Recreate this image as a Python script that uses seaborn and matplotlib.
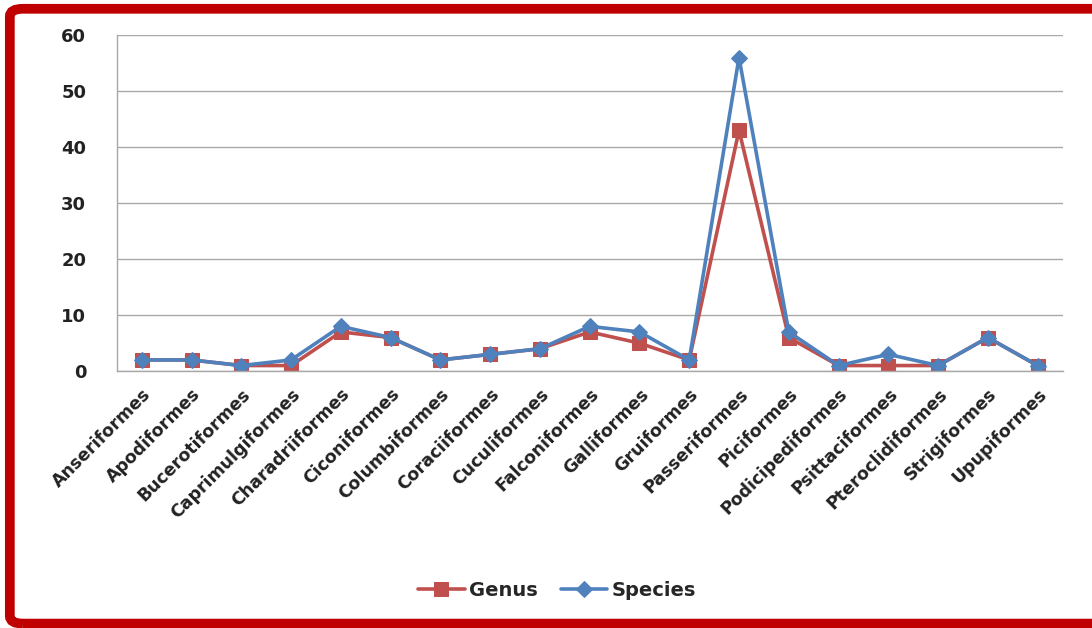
import matplotlib
matplotlib.use("Agg")
import matplotlib.pyplot as plt
from matplotlib.patches import FancyBboxPatch
import pandas as pd
import seaborn as sns

# bird orders and counts
orders = ["Anseriformes", "Apodiformes", "Bucerotiformes", "Caprimulgiformes",
          "Charadriiformes", "Ciconiformes", "Columbiformes", "Coraciiformes",
          "Cuculiformes", "Falconiformes", "Galliformes", "Gruiformes",
          "Passeriformes", "Piciformes", "Podicipediformes", "Psittaciformes",
          "Pteroclidiformes", "Strigiformes", "Upupiformes"]
genus = [2, 2, 1, 1, 7, 6, 2, 3, 4, 7, 5, 2, 43, 6, 1, 1, 1, 6, 1]
species = [2, 2, 1, 2, 8, 6, 2, 3, 4, 8, 7, 2, 56, 7, 1, 3, 1, 6, 1]

df = pd.DataFrame({"order": orders, "pos": range(len(orders)),
                   "Genus": genus, "Species": species})

sns.set_style("white")
plt.rcParams['font.family'] = ['DejaVu Sans']

fig = plt.figure(figsize=(10.92, 6.28), dpi=100)
ax = fig.add_axes([0.107, 0.409, 0.866, 0.535])

sns.lineplot(data=df, x="pos", y="Genus", ax=ax, color="#C0504D", marker="s",
             markersize=10, linewidth=2.6, markeredgecolor="#C0504D",
             label="Genus", sort=False)
sns.lineplot(data=df, x="pos", y="Species", ax=ax, color="#4F81BD", marker="D",
             markersize=8, linewidth=2.6, markeredgecolor="#4F81BD",
             label="Species", sort=False)

ax.set_xlim(-0.5, len(orders) - 0.5)
ax.set_ylim(0, 60)
ax.set_yticks(range(0, 61, 10))
ax.set_xticks(range(len(orders)))
ax.set_xticklabels(orders, rotation=45, ha="right", rotation_mode="anchor",
                   fontsize=12.5, fontweight="bold", color="#222222")
ax.tick_params(axis="y", labelsize=13, length=0, pad=22)
for t in ax.get_yticklabels():
    t.set_fontweight("bold")
    t.set_color("#222222")
ax.tick_params(axis="x", length=0, pad=10)
ax.set_xlabel("")
ax.set_ylabel("")
ax.grid(axis="y", color="#a8a8a8", linewidth=1)
for s in ["top", "right"]:
    ax.spines[s].set_visible(False)
for s in ["left", "bottom"]:
    ax.spines[s].set_color("#a8a8a8")
    ax.spines[s].set_linewidth(1)

ax.legend(loc="center", bbox_to_anchor=(0.51, 0.06), bbox_transform=fig.transFigure,
          ncol=2, frameon=False, prop={"size": 14, "weight": "bold"},
          handlelength=2.4, columnspacing=1.2, handletextpad=0.2)

# red frame around the whole figure (right edge runs off the picture)
frame = FancyBboxPatch((0.009, 0.007), 1.05, 0.979, transform=fig.transFigure,
                       boxstyle="round,pad=0,rounding_size=0.012",
                       facecolor="none", edgecolor="#C00000", linewidth=7)
fig.patches.append(frame)

fig.savefig("out.png", dpi=100)
